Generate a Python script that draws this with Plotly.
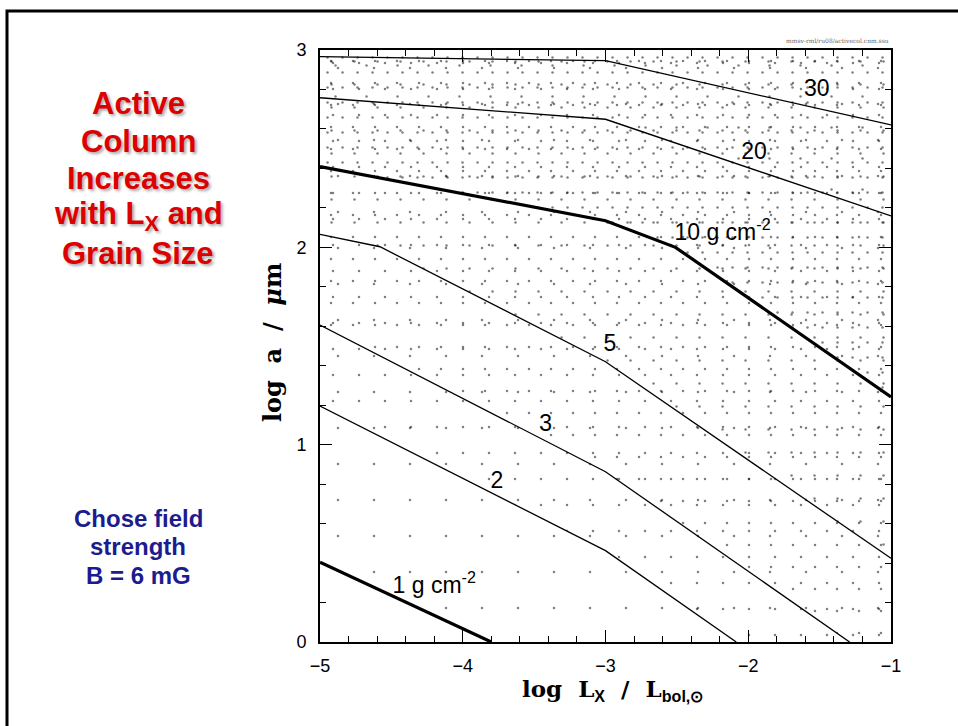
import math
import plotly.graph_objects as go

# ---------------- data ----------------
# contour lines of constant active column (g cm^-2): x = log Lx/Lbol, y = log a/um
levels = [1, 2, 3, 5, 10, 20, 30]
x_c1 = [-5.0, -3.80]
y_c1 = [0.404, 0.0]
x_c2 = [-5.0, -3.0, -2.084]
y_c2 = [1.196, 0.463, 0.0]
x_c3 = [-5.0, -3.0, -1.29]
y_c3 = [1.606, 0.863, 0.0]
x_c5 = [-5.0, -4.58, -3.0, -1.0]
y_c5 = [2.066, 2.003, 1.42, 0.424]
x_c10 = [-5.0, -3.0, -2.51, -1.0]
y_c10 = [2.409, 2.135, 2.0, 1.242]
x_c20 = [-5.0, -3.0, -1.0]
y_c20 = [2.758, 2.649, 2.159]
x_c30 = [-5.0, -3.0, -1.0]
y_c30 = [2.966, 2.946, 2.62]

label_text = ["1 g cm<sup>-2</sup>", "2", "3", "5", "10 g cm<sup>-2</sup>", "20", "30"]
label_x = [-4.20, -3.76, -3.42, -2.97, -2.18, -1.96, -1.52]
label_y = [0.28, 0.81, 1.10, 1.505, 2.068, 2.477, 2.797]

x_range = [-5, -1]
y_range = [0, 3]
x_ticks = [-5, -4, -3, -2, -1]
y_ticks = [0, 1, 2, 3]

title_lines = ["Active", "Column", "Increases", "with L<sub>X</sub> and", "Grain Size"]
note_lines = ["Chose field", "strength", "B = 6 mG"]

curves = [(x_c1, y_c1), (x_c2, y_c2), (x_c3, y_c3), (x_c5, y_c5),
          (x_c10, y_c10), (x_c20, y_c20), (x_c30, y_c30)]

# ---------------- style ----------------
W, H = 958, 726
ML, MR, MT, MB = 320, 67, 50, 84
thick = {1: 3.2, 10: 3.2}
# stipple pattern tile size added above each contour (cumulative density)
stipple = {1: 36, 2: 26, 3: 22, 5: 23, 10: 15, 20: 31}
dot_r = 1.25

fig = go.Figure()


def region_above(xs, ys):
    px, py = list(xs), list(ys)
    if py[-1] <= y_range[0]:
        px.append(x_range[1]); py.append(y_range[0])
    px += [x_range[1], x_range[0]]
    py += [y_range[1], y_range[1]]
    return px, py


for lev, (xs, ys) in zip(levels, curves):
    if lev not in stipple:
        continue
    s = stipple[lev]
    px, py = region_above(xs, ys)
    fig.add_trace(go.Scatter(
        x=px, y=py, mode="none", fill="toself",
        fillcolor="rgba(0,0,0,0)",
        fillpattern=dict(shape=".", size=s,
                         solidity=math.pi * dot_r ** 2 / s ** 2,
                         fgcolor="black", bgcolor="rgba(0,0,0,0)",
                         fillmode="overlay"),
        hoverinfo="skip", showlegend=False))

for lev, (xs, ys) in zip(levels, curves):
    fig.add_trace(go.Scatter(
        x=xs, y=ys, mode="lines",
        line=dict(color="black", width=thick.get(lev, 1.3)),
        showlegend=False, hoverinfo="skip"))

fig.add_trace(go.Scatter(
    x=label_x, y=label_y, mode="text", text=label_text,
    textfont=dict(family="Liberation Sans, Arial", size=23, color="black"),
    showlegend=False, hoverinfo="skip"))


def paper_x(px):
    return (px - ML) / (W - ML - MR)


def paper_y(py):
    return (H - MB - py) / (H - MT - MB)


axis_common = dict(
    showline=True, linecolor="black", linewidth=1.6, mirror="ticks",
    ticks="inside", ticklen=12, tickwidth=1.3, tickcolor="black",
    showgrid=False, zeroline=False,
    tickfont=dict(family="Liberation Sans, Arial", size=18, color="black"),
    minor=dict(ticks="inside", ticklen=6, tickwidth=1.2, dtick=0.2,
               tickcolor="black", showgrid=False),
)

fig.update_xaxes(range=x_range, tickvals=x_ticks, ticklabelstandoff=7,
                 **axis_common)
fig.update_yaxes(range=y_range, tickvals=y_ticks, ticklabelstandoff=8,
                 **axis_common)

serif = "DejaVu Serif"
anns = [
    dict(text="log\u00a0\u00a0L<sub><span style='font-family:Liberation Sans'>X</span></sub>"
              "\u00a0\u00a0/\u00a0\u00a0L<sub><span style='font-family:Liberation Sans'>bol,\u2299</span></sub>",
         x=paper_x(612), y=paper_y(690), font=dict(family=serif, size=23, color="black", weight="bold"),
         xanchor="center", yanchor="middle"),
    dict(text="log\u00a0\u00a0a\u00a0\u00a0/\u00a0\u00a0<i>\u03bc</i>m",
         x=paper_x(272), y=paper_y(343), textangle=-90,
         font=dict(family=serif, size=24, color="black", weight="bold"),
         xanchor="center", yanchor="middle"),
    dict(text="mmsv-rml/ru08/activecol.cnm.ssu",
         x=paper_x(891), y=paper_y(46), xanchor="right", yanchor="bottom",
         font=dict(family="DejaVu Serif", size=6, color="#666666")),
]

red_y0, red_step = 103.5, 37.5
for i, t in enumerate(title_lines):
    anns.append(dict(text=t, x=paper_x(138), y=paper_y(red_y0 + i * red_step),
                     xanchor="center", yanchor="middle",
                     font=dict(family="Liberation Sans, Arial", size=31, color="#dd0000",
                               weight="bold", shadow="2px 2px 3px rgba(0,0,0,0.35)")))

blue_y0, blue_step = 518.5, 28.3
for i, t in enumerate(note_lines):
    anns.append(dict(text=t, x=paper_x(138), y=paper_y(blue_y0 + i * blue_step),
                     xanchor="center", yanchor="middle",
                     font=dict(family="Liberation Sans, Arial", size=24, color="#1c1c8e",
                               weight="bold")))

for a in anns:
    a.update(xref="paper", yref="paper", showarrow=False)

fig.update_layout(
    width=W, height=H, autosize=False,
    margin=dict(l=ML, r=MR, t=MT, b=MB),
    paper_bgcolor="white", plot_bgcolor="white",
    annotations=anns,
    shapes=[dict(type="rect", xref="paper", yref="paper",
                 x0=paper_x(7), x1=paper_x(W + 20), y0=paper_y(H + 20), y1=paper_y(11),
                 line=dict(color="black", width=3), layer="above")],
)

fig.write_html("out.html")
